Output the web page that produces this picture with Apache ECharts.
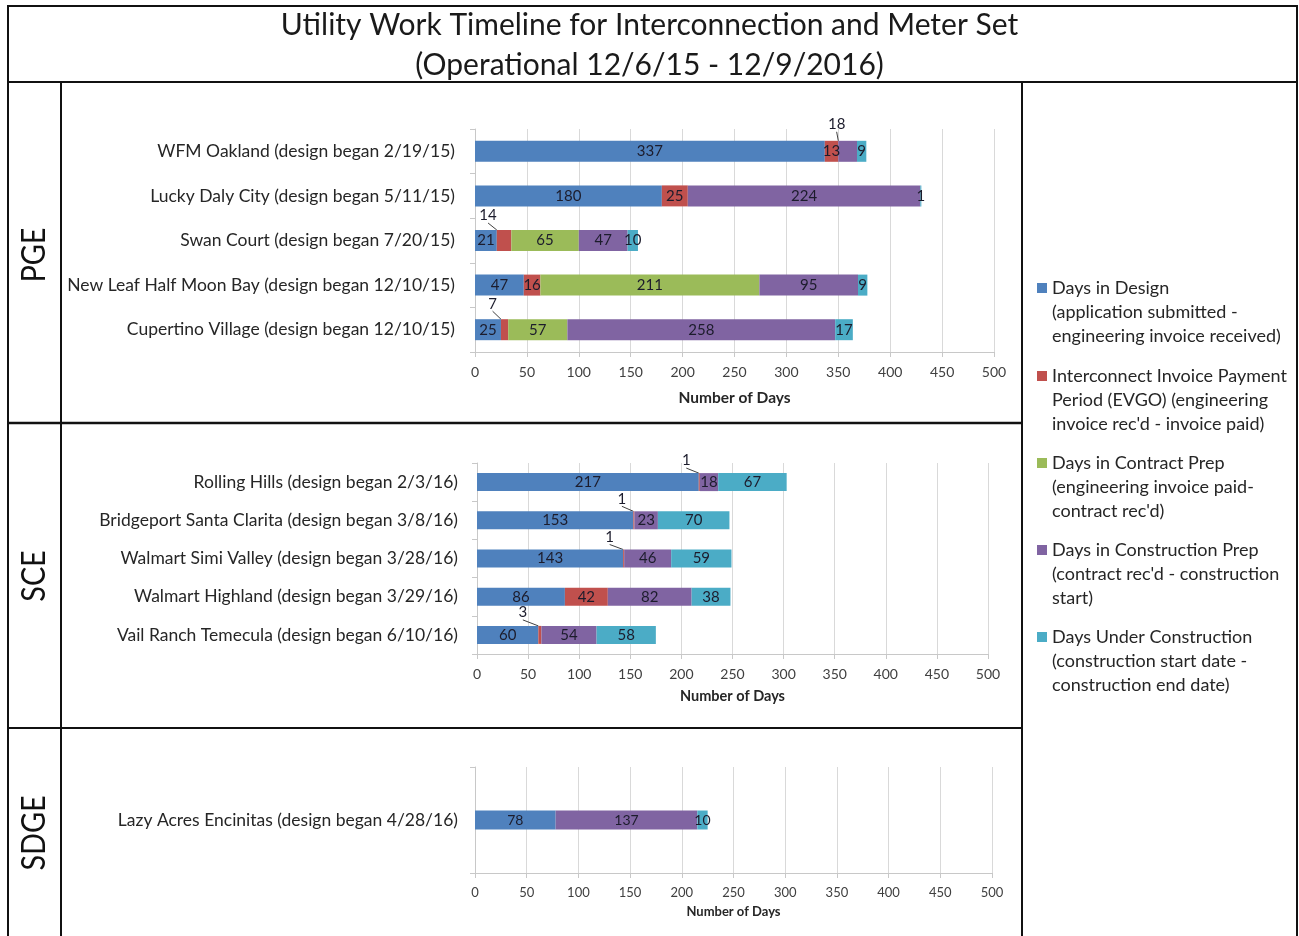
<!DOCTYPE html>
<html>
<head>
<meta charset="utf-8">
<script src="https://cdn.jsdelivr.net/npm/echarts@6/dist/echarts.min.js"></script>
<style>
html,body{margin:0;padding:0;background:#fff;}
#chart{width:1299px;height:936px;}
</style>
</head>
<body>
<div id="chart"></div>
<script>
// ---------- DATA ----------
const titleLines = ['Utility Work Timeline for Interconnection and Meter Set', '(Operational 12/6/15 - 12/9/2016)'];
const panelNames = ['PGE', 'SCE', 'SDGE'];
const stageNames = [
  'Days in Design\n(application submitted -\nengineering invoice received)',
  "Interconnect Invoice Payment\nPeriod (EVGO) (engineering\ninvoice rec'd - invoice paid)",
  "Days in Contract Prep\n(engineering invoice paid-\ncontract rec'd)",
  "Days in Construction Prep\n(contract rec'd - construction\nstart)",
  'Days Under Construction\n(construction start date -\nconstruction end date)'
];
const axisTitle = 'Number of Days';
const xMin = 0, xMax = 500, xStep = 50;

const pgeSites = ['WFM Oakland (design began 2/19/15)', 'Lucky Daly City (design began 5/11/15)', 'Swan Court (design began 7/20/15)', 'New Leaf Half Moon Bay (design began 12/10/15)', 'Cupertino Village (design began 12/10/15)'];
const pgeDesign = [337, 180, 21, 47, 25];
const pgeInvoice = [13, 25, 14, 16, 7];
const pgeContract = [0, 0, 65, 211, 57];
const pgeConstPrep = [18, 224, 47, 95, 258];
const pgeUnderConst = [9, 1, 10, 9, 17];

const sceSites = ['Rolling Hills (design began 2/3/16)', 'Bridgeport Santa Clarita (design began 3/8/16)', 'Walmart Simi Valley (design began 3/28/16)', 'Walmart Highland (design began 3/29/16)', 'Vail Ranch Temecula (design began 6/10/16)'];
const sceDesign = [217, 153, 143, 86, 60];
const sceInvoice = [1, 1, 1, 42, 3];
const sceContract = [0, 0, 0, 0, 0];
const sceConstPrep = [18, 23, 46, 82, 54];
const sceUnderConst = [67, 70, 59, 38, 58];

const sdgeSites = ['Lazy Acres Encinitas (design began 4/28/16)'];
const sdgeDesign = [78];
const sdgeInvoice = [0];
const sdgeContract = [0];
const sdgeConstPrep = [137];
const sdgeUnderConst = [10];

// ---------- STYLE / LAYOUT ----------
const FONT = 'Lato, "Open Sans", sans-serif';
const stageColors = ['#4f81bd', '#c0504d', '#9bbb59', '#8064a2', '#4bacc6'];
const panels = [
  {sites: pgeSites, stages: [pgeDesign, pgeInvoice, pgeContract, pgeConstPrep, pgeUnderConst],
   grid: {left: 475, right: 305, top: 129, bottom: 584}, barWidth: 21, tickFont: 14, nameFont: 15.5, nameGap: 38, labelFont: 15, catFont: 17.5, catMargin: 20},
  {sites: sceSites, stages: [sceDesign, sceInvoice, sceContract, sceConstPrep, sceUnderConst],
   grid: {left: 477, right: 311, top: 463, bottom: 282}, barWidth: 18, tickFont: 14, nameFont: 14.5, nameGap: 35, labelFont: 15, catFont: 17.5, catMargin: 19},
  {sites: sdgeSites, stages: [sdgeDesign, sdgeInvoice, sdgeContract, sdgeConstPrep, sdgeUnderConst],
   grid: {left: 475, right: 307, top: 767, bottom: 63}, barWidth: 19, tickFont: 13, nameFont: 13, nameGap: 32, labelFont: 14, catFont: 17.5, catMargin: 17}
];
// labels drawn outside their (thin) segment with a leader line: [panel, stage, row, dx, dy]
const outsideLabels = [
  [0, 3, 0, -11, -7], [0, 1, 2, -16, -5], [0, 1, 4, -12, -6],
  [1, 1, 0, -13, -3], [1, 1, 1, -12, -3], [1, 1, 2, -14, -3], [1, 1, 4, -17, -4]
];
function findOutside(p, s, r) {
  return outsideLabels.find(o => o[0] === p && o[1] === s && o[2] === r);
}

const grids = [], xAxes = [], yAxes = [], series = [];
panels.forEach((pn, p) => {
  grids.push(Object.assign({containLabel: false}, pn.grid));
  xAxes.push({
    type: 'value', gridIndex: p, min: xMin, max: xMax, interval: xStep,
    name: axisTitle, nameLocation: 'middle', nameGap: pn.nameGap,
    nameTextStyle: {fontFamily: FONT, fontSize: pn.nameFont, fontWeight: 'bold', color: '#262626'},
    axisLine: {show: true, lineStyle: {color: '#c8c8c8', width: 1}},
    axisTick: {show: true, length: 5, lineStyle: {color: '#c8c8c8'}},
    axisLabel: {fontFamily: FONT, fontSize: pn.tickFont, color: '#404040', margin: 13},
    splitLine: {show: true, lineStyle: {color: '#d9d9d9', width: 1}}
  });
  yAxes.push({
    type: 'category', gridIndex: p, inverse: true, data: pn.sites,
    axisLine: {show: true, lineStyle: {color: '#c8c8c8'}},
    axisTick: {show: true, length: 5, lineStyle: {color: '#c8c8c8'}},
    axisLabel: {fontFamily: FONT, fontSize: pn.catFont, color: '#262626', margin: pn.catMargin}
  });
  pn.stages.forEach((vals, s) => {
    series.push({
      type: 'bar', name: stageNames[s], stack: 'panel' + p,
      xAxisIndex: p, yAxisIndex: p, barWidth: pn.barWidth,
      itemStyle: {color: stageColors[s]},
      label: {show: true, position: 'inside', fontFamily: FONT, fontSize: pn.labelFont, color: '#1c1c2c',
        formatter: (d) => (d.value ? String(d.value) : '')},
      labelLayout: (params) => {
        const o = findOutside(p, s, params.dataIndex);
        return o ? {dx: o[3], dy: o[4]} : {};
      },
      data: vals.map((v, r) => {
        const o = findOutside(p, s, r);
        if (!o) return v;
        return {value: v, label: {position: 'top', distance: 2},
                labelLine: {show: true, lineStyle: {color: '#404040', width: 1}}};
      })
    });
  });
});

const L = (x1, y1, x2, y2, w) => ({type: 'line', shape: {x1, y1, x2, y2}, style: {stroke: '#111', lineWidth: w || 2}, silent: true});
const graphics = [
  {type: 'rect', shape: {x: 8, y: 6, width: 1289, height: 940}, style: {fill: 'none', stroke: '#111', lineWidth: 2}, silent: true},
  L(8, 82, 1297, 82, 2),
  L(61, 82, 61, 936, 2),
  L(1022, 82, 1022, 936, 2),
  L(8, 423, 1022, 423, 2.5),
  L(8, 728, 1022, 728, 2)
];
const panelLabelY = [255, 576, 833];
panelNames.forEach((n, i) => {
  graphics.push({type: 'text', x: 35, y: panelLabelY[i], rotation: Math.PI / 2, scaleX: 0.9,
    style: {text: n, font: '32px ' + FONT, fill: '#111', align: 'center', verticalAlign: 'middle'}, silent: true});
});

// legend icon: a square at the top of a tall (invisible) box so it lines up with the first text line
const legendIcon = 'path://M0,0L10,0L10,10L0,10Z M0,58L10,58Z';
const legendTops = [271, 359, 446, 533, 620];
const legends = stageNames.map((n, i) => ({
  data: [n], orient: 'vertical', left: 1032, top: legendTops[i],
  itemWidth: 10, itemHeight: 58, icon: legendIcon,
  textStyle: {fontFamily: FONT, fontSize: 18, lineHeight: 24, color: '#262626'}
}));

const chart = echarts.init(document.getElementById('chart'), null, {renderer: 'canvas'});
chart.setOption({
  animation: false,
  backgroundColor: '#fff',
  title: {text: titleLines.join('\n'), left: 'center', top: 0,
    textStyle: {fontFamily: FONT, fontSize: 30, fontWeight: 'normal', color: '#1a1a1a', lineHeight: 40}},
  grid: grids, xAxis: xAxes, yAxis: yAxes, series: series,
  legend: legends, graphic: graphics
});
</script>
</body>
</html>
